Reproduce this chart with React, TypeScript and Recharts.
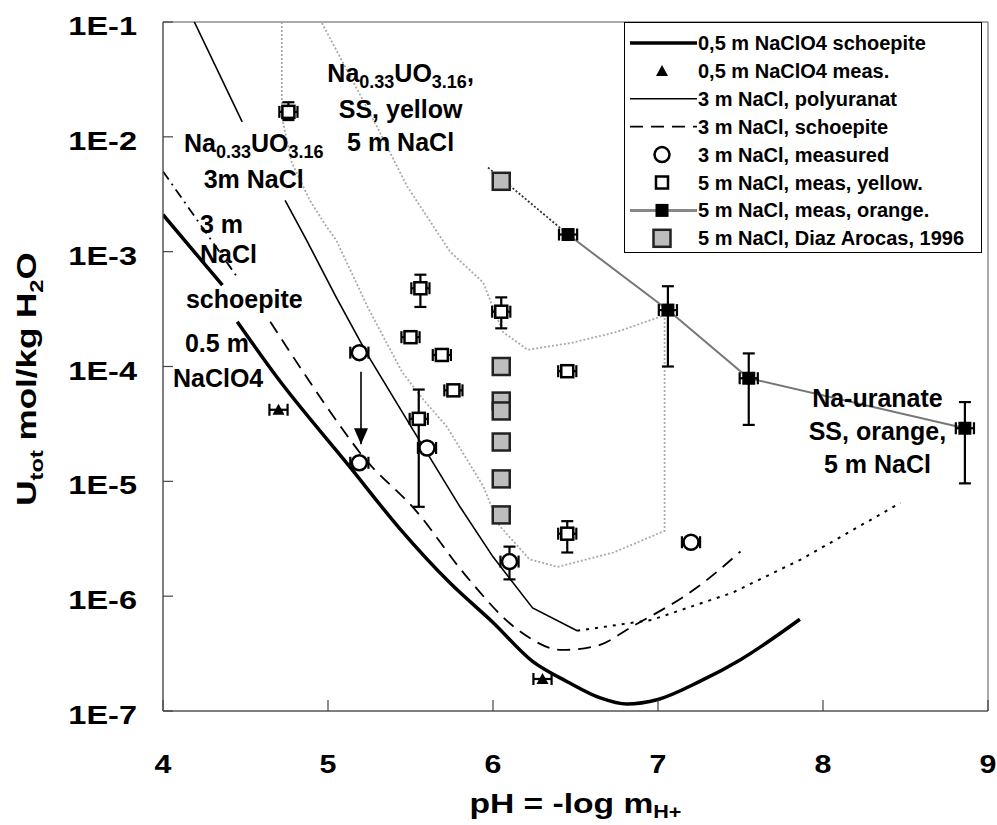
import {
  ComposedChart,
  Line,
  Scatter,
  XAxis,
  YAxis,
  ErrorBar,
  ReferenceArea,
  ReferenceDot,
  Legend,
} from 'recharts';

const FONT = '"Liberation Sans", Arial, Helvetica, sans-serif';

// axes
const phTicks = [4, 5, 6, 7, 8, 9];
const uTicks = [1e-7, 1e-6, 1e-5, 1e-4, 1e-3, 1e-2, 1e-1];

// 0,5 m NaClO4 schoepite (thick line), null = gap for label
const naclo4SchPH = [4.0, 4.36, 4.4, 4.45, 4.69, 5.13, 5.44, 5.74, 6.0, 6.24, 6.45, 6.65, 6.81, 7.0, 7.25, 7.5, 7.86];
const naclo4SchU = [2.1e-3, 5.1e-4, null, 2.45e-4, 8.1e-5, 1.35e-5, 3.8e-6, 1.3e-6, 5.9e-7, 2.7e-7, 1.8e-7, 1.3e-7, 1.15e-7, 1.26e-7, 1.8e-7, 2.8e-7, 6.3e-7];

// 3 m NaCl polyuranat (thin line)
const polyPH = [4.19, 4.48, 4.6, 4.74, 4.87, 5.05, 5.24, 5.54, 5.8, 6.0, 6.24, 6.51];
const polyU = [1e-1, 1.35e-2, null, 2.8e-3, 1.26e-3, 4.0e-4, 1.26e-4, 2.45e-5, 6.0e-6, 2.2e-6, 7.9e-7, 5.0e-7];

// continuation at high pH (fine dots)
const polyExtPH = [6.51, 6.96, 7.45, 7.87, 8.47];
const polyExtU = [5.0e-7, 6.2e-7, 1.07e-6, 2.1e-6, 6.5e-6];

// 3 m NaCl schoepite: dash-dot start, then dashed
const naclSchTopPH = [4.0, 4.45];
const naclSchTopU = [5.0e-3, 6.0e-4];
const naclSchPH = [4.65, 5.13, 5.19, 5.54, 5.84, 6.15, 6.42, 6.63, 6.84, 7.25, 7.5];
const naclSchU = [2.45e-4, 2.35e-5, 1.8e-5, 5.4e-6, 1.48e-6, 5.1e-7, 3.4e-7, 3.7e-7, 5.4e-7, 1.23e-6, 2.45e-6];

// yellow solid solution field boundary (gray dots), path order
const ssPH = [4.72, 4.72, 4.78, 4.89, 4.99, 5.05, 5.24, 5.45, 5.58, 5.72, 5.94, 6.04, 6.22, 6.39, 6.73, 7.04, 7.04, 6.75, 6.47, 6.21, 6.06, 5.94, 5.74, 5.48, 5.3, 4.96];
const ssU = [1e-1, 1.5e-2, 6e-3, 2.8e-3, 1.66e-3, 1.26e-3, 3.3e-4, 8.9e-5, 5.1e-5, 3.0e-5, 9.1e-6, 4.1e-6, 2.1e-6, 1.8e-6, 2.4e-6, 3.7e-6, 2.8e-4, 2.0e-4, 1.6e-4, 1.4e-4, 2.0e-4, 5.4e-4, 1.0e-3, 3.7e-3, 1.2e-2, 1e-1];

// 5 m NaCl orange
const orangePH = [6.455, 7.06, 7.55, 8.86];
const orangeU = [1.41e-3, 3.1e-4, 7.9e-5, 2.9e-5];
const orangeLo = [null, 1.0e-4, 3.1e-5, 9.6e-6];
const orangeHi = [null, 5.0e-4, 1.3e-4, 4.9e-5];
const orangeLeadPH = [5.97, 6.455];
const orangeLeadU = [5.4e-3, 1.41e-3];

// 5 m NaCl yellow
const yellowPH = [4.76, 5.56, 5.5, 5.69, 5.76, 5.55, 6.05, 6.45, 6.45];
const yellowU = [1.65e-2, 4.8e-4, 1.8e-4, 1.26e-4, 6.2e-5, 3.5e-5, 3.0e-4, 9.1e-5, 3.5e-6];
const yellowLo = [1.4e-2, 3.3e-4, null, null, null, 6.0e-6, 2.15e-4, null, 2.4e-6];
const yellowHi = [2.0e-2, 6.3e-4, null, null, null, 6.3e-5, 4.0e-4, null, 4.5e-6];

// 3 m NaCl measured
const nacl3PH = [5.19, 5.19, 5.6, 6.1, 7.2];
const nacl3U = [1.32e-4, 1.45e-5, 1.95e-5, 2.0e-6, 2.95e-6];
const nacl3Lo = [null, null, null, 1.4e-6, null];
const nacl3Hi = [null, null, null, 2.7e-6, null];

// 0,5 m NaClO4 measured
const naclo4PH = [4.7, 6.3];
const naclo4U = [4.2e-5, 1.9e-7];

// Diaz Arocas 1996
const diazPH = [6.05, 6.05, 6.05, 6.05, 6.05, 6.05, 6.05];
const diazU = [4.1e-3, 1.0e-4, 5.0e-5, 4.1e-5, 2.2e-5, 1.05e-5, 5.1e-6];

// arrow 1.3E-4 -> 2E-5
const arrowPH = [5.2, 5.2];
const arrowU = [9.0e-5, 2.1e-5];

const PH_ERR = 0.055;

const legendLabels = [
  '0,5 m NaClO4 schoepite',
  '0,5 m NaClO4 meas.',
  '3 m NaCl, polyuranat',
  '3 m NaCl, schoepite',
  '3 m NaCl, measured',
  '5 m NaCl, meas, yellow.',
  '5 m NaCl, meas, orange.',
  '5 m NaCl, Diaz Arocas, 1996',
];

type Seg = [string, boolean?];

const annYellow: Seg[][] = [
  [['Na'], ['0.33', true], ['UO'], ['3.16', true], [',']],
  [['SS, yellow']],
  [['5 m NaCl']],
];
const annPoly: Seg[][] = [
  [['Na'], ['0.33', true], ['UO'], ['3.16', true]],
  [['3m NaCl']],
];
const annOrange: Seg[][] = [[['Na-uranate']], [['SS, orange,']], [['5 m NaCl']]];

type Pt = { ph: number; u: number | null; ex?: number; ey?: [number, number] };

function curve(ph: number[], u: (number | null)[]): Pt[] {
  return ph.map((p, i) => ({ ph: p, u: u[i] }));
}

function meas(
  ph: number[],
  u: number[],
  lo?: (number | null)[],
  hi?: (number | null)[],
): Pt[] {
  return ph.map((p, i) => {
    const pt: Pt = { ph: p, u: u[i], ex: PH_ERR };
    const l = lo ? lo[i] : null;
    const h = hi ? hi[i] : null;
    if (l != null && h != null) pt.ey = [u[i] - l, h - u[i]];
    return pt;
  });
}

const OpenSquare = (p: any) => (
  <rect x={p.cx - 6} y={p.cy - 6} width={12} height={12} fill="#fff" stroke="#000" strokeWidth={2.5} />
);
const BlackSquare = (p: any) => (
  <rect x={p.cx - 6.5} y={p.cy - 6.5} width={13} height={13} fill="#000" />
);
const GraySquare = (p: any) => (
  <rect x={p.cx - 8.5} y={p.cy - 8.5} width={17} height={17} fill="#bdbdbd" stroke="#222" strokeWidth={2.5} />
);
const OpenCircle = (p: any) => (
  <circle cx={p.cx} cy={p.cy} r={7.5} fill="#fff" stroke="#000" strokeWidth={2.5} />
);
const Triangle = (p: any) => (
  <path d={`M${p.cx},${p.cy - 6}L${p.cx + 6},${p.cy + 5}L${p.cx - 6},${p.cy + 5}Z`} fill="#000" />
);

function ArrowHead(p: any) {
  if (p.index !== 1) return <g key={`a${p.index}`} />;
  return (
    <path
      key="ahead"
      d={`M${p.cx},${p.cy}L${p.cx - 7},${p.cy - 16}L${p.cx + 7},${p.cy - 16}Z`}
      fill="#000"
    />
  );
}

function rich(segs: Seg[]) {
  let prevSub = false;
  return segs.map(([t, sub], i) => {
    let dy = 0;
    if (sub && !prevSub) dy = 6;
    if (!sub && prevSub) dy = -6;
    prevSub = !!sub;
    return (
      <tspan key={i} dy={dy} fontSize={sub ? 18 : 25}>
        {t}
      </tspan>
    );
  });
}

function annot(lines: Seg[][], gaps: number[], anchor: 'middle' | 'start' = 'middle', dxs?: number[]) {
  return (p: any) => (
    <g>
      {lines.map((segs, i) => (
        <text
          key={i}
          x={p.cx + (dxs ? dxs[i] : 0)}
          y={p.cy + gaps[i]}
          textAnchor={anchor}
          fontFamily={FONT}
          fontWeight="bold"
          fontSize={25}
          fill="#000"
        >
          {rich(segs)}
        </text>
      ))}
    </g>
  );
}

function YTick(props: any) {
  const { x, y, payload } = props;
  const e = Math.round(Math.log10(payload.value));
  return (
    <g transform={`translate(${x},${y + 13}) scale(1.3,1)`}>
      <text x={0} y={0} textAnchor="end" fontFamily={FONT} fontWeight="bold" fontSize={25} fill="#000">
        {`1E${e}`}
      </text>
    </g>
  );
}

function XTick(props: any) {
  const { x, payload } = props;
  return (
    <g transform={`translate(${x},773) scale(1.17,1)`}>
      <text x={0} y={0} textAnchor="middle" fontFamily={FONT} fontWeight="bold" fontSize={26} fill="#000">
        {payload.value}
      </text>
    </g>
  );
}

function XTitle(props: any) {
  const vb = props.viewBox || { x: 163, y: 711, width: 825 };
  return (
    <text
      transform={`translate(${vb.x + vb.width / 2},813) scale(1.2,1)`}
      textAnchor="middle"
      fontFamily={FONT}
      fontWeight="bold"
      fontSize={28}
      fill="#000"
    >
      pH = -log m
      <tspan dy={5} fontSize={18}>
        H+
      </tspan>
    </text>
  );
}

function YTitle() {
  return (
    <text
      transform="translate(36,379) rotate(-90) scale(1.25,1)"
      textAnchor="middle"
      fontFamily={FONT}
      fontWeight="bold"
      fontSize={28}
      fill="#000"
    >
      U
      <tspan dy={7} fontSize={19}>
        tot
      </tspan>
      <tspan dy={-7}> mol/kg H</tspan>
      <tspan dy={7} fontSize={19}>
        2
      </tspan>
      <tspan dy={-7}>O</tspan>
    </text>
  );
}

function LegendSymbol({ i }: { i: number }) {
  const cy = 21 + 27.9 * i;
  const cx = 38;
  switch (i) {
    case 0:
      return <line x1={6} x2={73} y1={cy} y2={cy} stroke="#000" strokeWidth={3.5} />;
    case 1:
      return <Triangle cx={cx} cy={cy} />;
    case 2:
      return <line x1={6} x2={73} y1={cy} y2={cy} stroke="#000" strokeWidth={1.6} />;
    case 3:
      return <line x1={6} x2={73} y1={cy} y2={cy} stroke="#000" strokeWidth={1.8} strokeDasharray="13 8" />;
    case 4:
      return <OpenCircle cx={cx} cy={cy} />;
    case 5:
      return <OpenSquare cx={cx} cy={cy} />;
    case 6:
      return (
        <g>
          <line x1={6} x2={73} y1={cy} y2={cy} stroke="#888" strokeWidth={3} />
          <BlackSquare cx={cx} cy={cy} />
        </g>
      );
    default:
      return <GraySquare cx={cx} cy={cy} />;
  }
}

function LegendBox() {
  return (
    <svg width={358} height={231} style={{ display: 'block' }}>
      <rect x={0.5} y={0.5} width={357} height={230} fill="#fff" stroke="#000" strokeWidth={1} />
      {legendLabels.map((t, i) => (
        <g key={t}>
          <LegendSymbol i={i} />
          <text
            x={74}
            y={21 + 27.9 * i + 7}
            fontFamily={FONT}
            fontWeight="bold"
            fontSize={20}
            fill="#000"
          >
            {t}
          </text>
        </g>
      ))}
    </svg>
  );
}

export default function App() {
  return (
    <div style={{ position: 'absolute', left: 0, top: 0, background: '#fff' }}>
      <ComposedChart
        width={997}
        height={825}
        margin={{ top: 22, right: 9, bottom: 0, left: 0 }}
      >
        <XAxis
          dataKey="ph"
          type="number"
          domain={[4, 9]}
          ticks={phTicks}
          interval={0}
          allowDataOverflow
          height={114}
          tickSize={-11}
          tickMargin={10}
          stroke="#555"
          tickLine={{ stroke: '#444', strokeWidth: 1.2 }}
          tick={XTick}
          label={{ content: XTitle }}
        />
        <YAxis
          dataKey="u"
          type="number"
          scale="log"
          domain={[1e-7, 1e-1]}
          ticks={uTicks}
          interval={0}
          allowDataOverflow
          width={163}
          tickSize={-10}
          tickMargin={36}
          stroke="#555"
          tickLine={{ stroke: '#444', strokeWidth: 1.2 }}
          tick={YTick}
          label={{ content: YTitle }}
        />
        <ReferenceArea x1={4} x2={9} y1={1e-7} y2={1e-1} fill="none" stroke="#555" strokeWidth={1} />

        <Line
          data={curve(ssPH, ssU)}
          dataKey="u"
          type="linear"
          stroke="#aaa"
          strokeWidth={1.8}
          strokeDasharray="2 2"
          dot={false}
          activeDot={false}
          isAnimationActive={false}
        />
        <Line
          data={curve(naclo4SchPH, naclo4SchU)}
          dataKey="u"
          type="monotone"
          stroke="#000"
          strokeWidth={3.5}
          dot={false}
          activeDot={false}
          isAnimationActive={false}
        />
        <Line
          data={curve(polyPH, polyU)}
          dataKey="u"
          type="linear"
          stroke="#000"
          strokeWidth={1.6}
          dot={false}
          activeDot={false}
          isAnimationActive={false}
        />
        <Line
          data={curve(polyExtPH, polyExtU)}
          dataKey="u"
          type="linear"
          stroke="#000"
          strokeWidth={2}
          strokeDasharray="3 6"
          dot={false}
          activeDot={false}
          isAnimationActive={false}
        />
        <Line
          data={curve(naclSchTopPH, naclSchTopU)}
          dataKey="u"
          type="linear"
          stroke="#000"
          strokeWidth={1.8}
          strokeDasharray="10 5 2 5"
          dot={false}
          activeDot={false}
          isAnimationActive={false}
        />
        <Line
          data={curve(naclSchPH, naclSchU)}
          dataKey="u"
          type="monotone"
          stroke="#000"
          strokeWidth={1.8}
          strokeDasharray="13 8"
          dot={false}
          activeDot={false}
          isAnimationActive={false}
        />
        <Line
          data={curve(orangeLeadPH, orangeLeadU)}
          dataKey="u"
          type="linear"
          stroke="#333"
          strokeWidth={1.8}
          strokeDasharray="2 2"
          dot={false}
          activeDot={false}
          isAnimationActive={false}
        />
        <Line
          data={curve(orangePH, orangeU)}
          dataKey="u"
          type="linear"
          stroke="#777"
          strokeWidth={2}
          dot={false}
          activeDot={false}
          isAnimationActive={false}
        />
        <Line
          data={curve(arrowPH, arrowU)}
          dataKey="u"
          type="linear"
          stroke="#000"
          strokeWidth={1.6}
          dot={ArrowHead}
          activeDot={false}
          isAnimationActive={false}
        />

        <Scatter data={meas(diazPH, diazU)} dataKey="u" shape={GraySquare} isAnimationActive={false} />
        <Scatter data={meas(yellowPH, yellowU, yellowLo, yellowHi)} dataKey="u" shape={OpenSquare} isAnimationActive={false}>
          <ErrorBar dataKey="ey" direction="y" width={6} stroke="#000" strokeWidth={2.2} />
          <ErrorBar dataKey="ex" direction="x" width={6} stroke="#000" strokeWidth={2.2} />
        </Scatter>
        <Scatter data={meas(nacl3PH, nacl3U, nacl3Lo, nacl3Hi)} dataKey="u" shape={OpenCircle} isAnimationActive={false}>
          <ErrorBar dataKey="ey" direction="y" width={6} stroke="#000" strokeWidth={2.2} />
          <ErrorBar dataKey="ex" direction="x" width={6} stroke="#000" strokeWidth={2.2} />
        </Scatter>
        <Scatter data={meas(naclo4PH, naclo4U)} dataKey="u" shape={Triangle} isAnimationActive={false}>
          <ErrorBar dataKey="ex" direction="x" width={6} stroke="#000" strokeWidth={2.2} />
        </Scatter>
        <Scatter data={meas(orangePH, orangeU, orangeLo, orangeHi)} dataKey="u" shape={BlackSquare} isAnimationActive={false}>
          <ErrorBar dataKey="ey" direction="y" width={6} stroke="#000" strokeWidth={2.2} />
          <ErrorBar dataKey="ex" direction="x" width={6} stroke="#000" strokeWidth={2.2} />
        </Scatter>

        <ReferenceDot x={5.44} y={3.0e-2} r={0} shape={annot(annYellow, [0, 36, 69])} />
        <ReferenceDot x={4.55} y={7.4e-3} r={0} shape={annot(annPoly, [0, 36])} />
        <ReferenceDot
          x={4.224}
          y={1.46e-3}
          r={0}
          shape={annot([[['3 m']], [['NaCl']], [['schoepite']]], [0, 30, 75], 'start', [0, 0, -14])}
        />
        <ReferenceDot
          x={4.133}
          y={1.35e-4}
          r={0}
          shape={annot([[['0.5 m']], [['NaClO4']]], [0, 35], 'start', [0, -12])}
        />
        <ReferenceDot x={8.33} y={4.4e-5} r={0} shape={annot(annOrange, [0, 33, 66])} />

        <Legend
          layout="vertical"
          align="center"
          verticalAlign="middle"
          wrapperStyle={{ left: 624, top: 22, width: 358, height: 231 }}
          content={() => <LegendBox />}
        />
      </ComposedChart>
    </div>
  );
}
